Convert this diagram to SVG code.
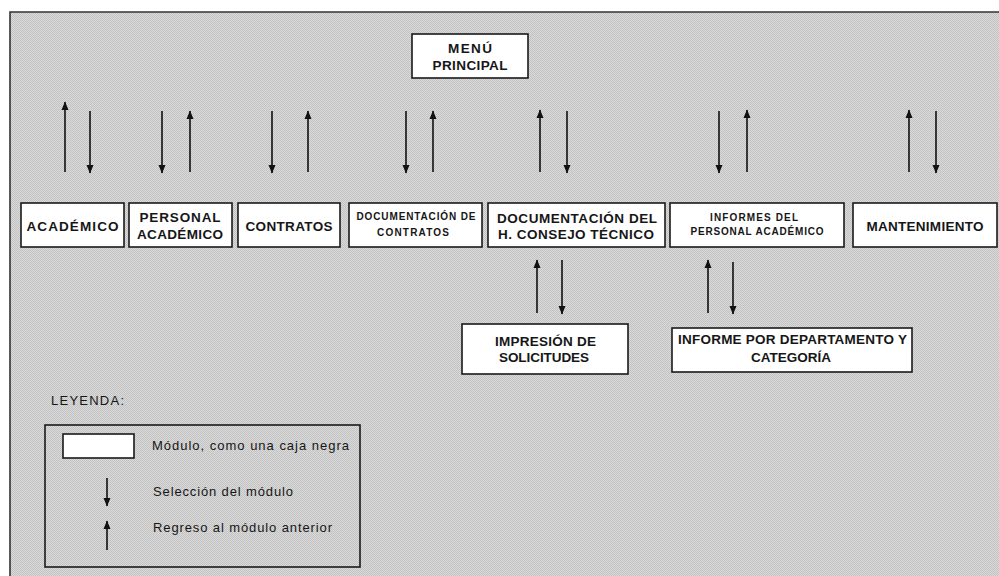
<svg xmlns="http://www.w3.org/2000/svg" width="999" height="576" viewBox="0 0 999 576">
  <defs>
    <!-- fine checker used for the grey panel -->
    <pattern id="dither" width="2" height="2" patternUnits="userSpaceOnUse">
      <rect width="2" height="2" fill="#dadada"/>
      <rect width="1" height="1" fill="#c2c2c2"/>
      <rect x="1" y="1" width="1" height="1" fill="#c2c2c2"/>
    </pattern>
    <marker id="head" markerUnits="userSpaceOnUse" markerWidth="9" markerHeight="8" refX="8" refY="4" orient="auto">
      <path d="M0,0.5 L8.5,4 L0,7.5 Z" fill="#111"/>
    </marker>
    <style>
      .box { fill: #ffffff; stroke: #1a1a1a; stroke-width: 1.6; }
      .lbl { font-family: "Liberation Sans", Arial, sans-serif; font-size: 13.5px; font-weight: bold; fill: #161616; text-anchor: middle; }
      .sm { font-size: 10px; }
      .leg { font-family: "Liberation Sans", Arial, sans-serif; font-size: 13px; fill: #161616; }
      .arr { stroke: #111; stroke-width: 1.6; fill: none; marker-end: url(#head); }
    </style>
  </defs>

  <!-- page and grey panel -->
  <rect width="999" height="576" fill="#ffffff"/>
  <rect x="10" y="12" width="989" height="564" fill="url(#dither)"/>
  <path d="M10,576 V12 H999" fill="none" stroke="#333" stroke-width="1.6"/>

  <g id="menu-principal">
    <rect class="box" x="412" y="34" width="116" height="44"/>
    <text class="lbl" x="470" y="53" textLength="44" lengthAdjust="spacing">MENÚ</text>
    <text class="lbl" x="470" y="70" textLength="75" lengthAdjust="spacing">PRINCIPAL</text>
  </g>

  <g id="academico">
    <rect class="box" x="21" y="203" width="103" height="44"/>
    <text class="lbl" x="72.5" y="231" textLength="92" lengthAdjust="spacing">ACADÉMICO</text>
  </g>

  <g id="personal-academico">
    <rect class="box" x="129" y="203" width="103" height="44"/>
    <text class="lbl" x="180" y="222" textLength="81" lengthAdjust="spacing">PERSONAL</text>
    <text class="lbl" x="180" y="239" textLength="86" lengthAdjust="spacing">ACADÉMICO</text>
  </g>

  <g id="contratos">
    <rect class="box" x="238" y="203" width="102" height="44"/>
    <text class="lbl" x="289" y="231" textLength="87" lengthAdjust="spacing">CONTRATOS</text>
  </g>

  <g id="documentacion-contratos">
    <rect class="box" x="349" y="203" width="133" height="44"/>
    <text class="lbl sm" x="416" y="220" textLength="119" lengthAdjust="spacing">DOCUMENTACIÓN DE</text>
    <text class="lbl sm" x="413" y="236" textLength="72" lengthAdjust="spacing">CONTRATOS</text>
  </g>

  <g id="documentacion-consejo">
    <rect class="box" x="488" y="203" width="177" height="44"/>
    <text class="lbl" x="577" y="223" textLength="160" lengthAdjust="spacing">DOCUMENTACIÓN DEL</text>
    <text class="lbl" x="576" y="239" textLength="156" lengthAdjust="spacing">H. CONSEJO TÉCNICO</text>
  </g>

  <g id="informes-personal">
    <rect class="box" x="670" y="203" width="174" height="44"/>
    <text class="lbl sm" x="754" y="221" textLength="88" lengthAdjust="spacing">INFORMES DEL</text>
    <text class="lbl sm" x="757" y="235" textLength="133" lengthAdjust="spacing">PERSONAL ACADÉMICO</text>
  </g>

  <g id="mantenimiento">
    <rect class="box" x="853" y="203" width="144" height="44"/>
    <text class="lbl" x="925" y="231" textLength="117" lengthAdjust="spacing">MANTENIMIENTO</text>
  </g>

  <g id="impresion-solicitudes">
    <rect class="box" x="462" y="324" width="166" height="50"/>
    <text class="lbl" x="545.5" y="346" textLength="101" lengthAdjust="spacing">IMPRESIÓN DE</text>
    <text class="lbl" x="544" y="362" textLength="90" lengthAdjust="spacing">SOLICITUDES</text>
  </g>

  <g id="informe-departamento">
    <rect class="box" x="672" y="328" width="240" height="44"/>
    <text class="lbl" x="792.5" y="344" textLength="229" lengthAdjust="spacing">INFORME POR DEPARTAMENTO Y</text>
    <text class="lbl" x="791" y="362">CATEGORÍA</text>
  </g>

  <g id="connectors">
    <!-- main menu <-> first level modules -->
    <line class="arr" x1="65" y1="172" x2="65" y2="102"/>
    <line class="arr" x1="90" y1="111" x2="90" y2="173"/>
    <line class="arr" x1="162" y1="111" x2="162" y2="173"/>
    <line class="arr" x1="190" y1="172" x2="190" y2="111"/>
    <line class="arr" x1="272" y1="111" x2="272" y2="173"/>
    <line class="arr" x1="308" y1="172" x2="308" y2="111"/>
    <line class="arr" x1="406" y1="111" x2="406" y2="173"/>
    <line class="arr" x1="433" y1="172" x2="433" y2="111"/>
    <line class="arr" x1="540" y1="172" x2="540" y2="110"/>
    <line class="arr" x1="567" y1="111" x2="567" y2="173"/>
    <line class="arr" x1="719" y1="111" x2="719" y2="173"/>
    <line class="arr" x1="747" y1="172" x2="747" y2="110"/>
    <line class="arr" x1="909" y1="172" x2="909" y2="110"/>
    <line class="arr" x1="936" y1="111" x2="936" y2="173"/>
    <!-- second level modules -->
    <line class="arr" x1="537" y1="313" x2="537" y2="260"/>
    <line class="arr" x1="562" y1="260" x2="562" y2="314"/>
    <line class="arr" x1="708" y1="313" x2="708" y2="260"/>
    <line class="arr" x1="733" y1="262" x2="733" y2="314"/>
  </g>

  <g id="leyenda">
    <text class="leg" x="51" y="405" textLength="73" lengthAdjust="spacing">LEYENDA:</text>
    <rect x="45" y="425" width="315" height="142" fill="none" stroke="#1a1a1a" stroke-width="1.6"/>
    <rect class="box" x="63" y="434" width="71" height="24"/>
    <text class="leg" x="152" y="450" textLength="197" lengthAdjust="spacing">Módulo, como una caja negra</text>
    <line class="arr" x1="107" y1="478" x2="107" y2="506"/>
    <text class="leg" x="153" y="496" textLength="140" lengthAdjust="spacing">Selección del módulo</text>
    <line class="arr" x1="107" y1="550" x2="107" y2="521"/>
    <text class="leg" x="153" y="532" textLength="179" lengthAdjust="spacing">Regreso al módulo anterior</text>
  </g>
</svg>
